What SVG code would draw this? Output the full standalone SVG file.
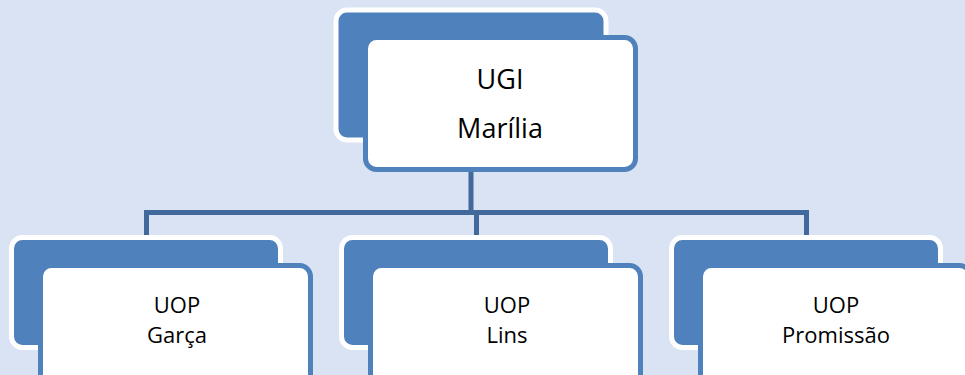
<svg xmlns="http://www.w3.org/2000/svg" width="965" height="375" viewBox="0 0 965 375">
<style>
.back{fill:#4f81bd;stroke:#ffffff;stroke-width:5}
.front{fill:#ffffff;stroke:#4f81bd;stroke-width:5}
.conn{fill:none;stroke:#41699c;stroke-width:5}
text{font-family:"Open Sans","Liberation Sans",Arial,sans-serif;fill:#000000;text-anchor:middle}
.big{font-size:27px}
.small{font-size:22px}
</style>
<rect x="0" y="0" width="965" height="375" fill="#dae3f3"/>
<g id="connectors">
<line class="conn" x1="471" y1="170" x2="471" y2="212"/>
<polyline class="conn" points="146.5,236 146.5,212.5 806.5,212.5 806.5,236"/>
<line class="conn" x1="476.5" y1="212" x2="476.5" y2="236"/>
</g>
<g id="ugi-marilia">
<rect class="back" x="336" y="10" width="270" height="130" rx="11"/>
<rect class="front" x="365.5" y="37.5" width="270" height="132" rx="11"/>
<text class="big" x="500" y="89">UGI</text>
<text class="big" x="500" y="138">Marília</text>
</g>
<g id="uop-garca">
<rect class="back" x="11.5" y="237.5" width="269" height="110" rx="11"/>
<rect class="front" x="40.5" y="265.5" width="270" height="120" rx="11"/>
<text class="small" x="177" y="313">UOP</text>
<text class="small" x="177" y="343">Garça</text>
</g>
<g id="uop-lins">
<rect class="back" x="341.5" y="237.5" width="269" height="110" rx="11"/>
<rect class="front" x="370.5" y="265.5" width="270" height="120" rx="11"/>
<text class="small" x="507" y="313">UOP</text>
<text class="small" x="507" y="343">Lins</text>
</g>
<g id="uop-promissao">
<rect class="back" x="671.5" y="237.5" width="269" height="110" rx="11"/>
<rect class="front" x="700.5" y="265.5" width="270" height="120" rx="11"/>
<text class="small" x="836" y="313">UOP</text>
<text class="small" x="836" y="343">Promissão</text>
</g>
</svg>
